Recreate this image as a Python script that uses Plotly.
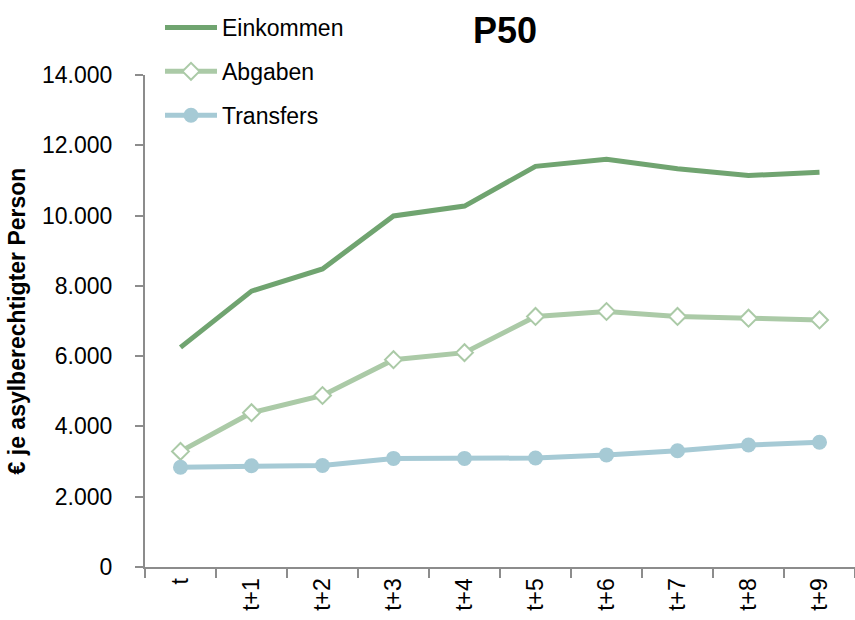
import plotly.graph_objects as go

# Zeitpunkte relativ zum Jahr der Anerkennung
perioden = ["t", "t+1", "t+2", "t+3", "t+4", "t+5", "t+6", "t+7", "t+8", "t+9"]

# Median (P50) in Euro je asylberechtigter Person
einkommen = [6250, 7850, 8480, 9990, 10270, 11400, 11600, 11330, 11140, 11230]
abgaben = [3290, 4390, 4880, 5900, 6100, 7130, 7270, 7130, 7080, 7030]
transfers = [2840, 2880, 2890, 3090, 3090, 3100, 3190, 3310, 3470, 3550]

farbe_einkommen = "#70a470"
farbe_abgaben = "#abcaa7"
farbe_transfers = "#a6cad5"
achsenfarbe = "#8c8c8c"
schrift = "Liberation Sans"

fig = go.Figure()

fig.add_trace(go.Scatter(
    x=perioden, y=einkommen, name="Einkommen", mode="lines",
    line=dict(color=farbe_einkommen, width=5),
    legendgroup="a", cliponaxis=False,
))
fig.add_trace(go.Scatter(
    x=perioden, y=abgaben, name="Abgaben", mode="lines+markers",
    line=dict(color=farbe_abgaben, width=5),
    marker=dict(symbol="diamond", size=13, color="white",
                line=dict(color=farbe_abgaben, width=2)),
    legendgroup="b", cliponaxis=False,
))
fig.add_trace(go.Scatter(
    x=perioden, y=transfers, name="Transfers", mode="lines+markers",
    line=dict(color=farbe_transfers, width=5),
    marker=dict(symbol="circle", size=15, color=farbe_transfers),
    legendgroup="c", cliponaxis=False,
))

fig.update_layout(
    width=855, height=620,
    margin=dict(l=145, r=0, t=75, b=53, pad=0),
    paper_bgcolor="white", plot_bgcolor="white",
    font=dict(family=schrift, size=23, color="black"),
    separators=",.",
    title=dict(text="<b>P50</b>", x=505 / 855, xanchor="center",
               y=1 - 30 / 620, yanchor="middle",
               font=dict(family=schrift, size=36, color="black")),
    legend=dict(
        x=(160 - 145) / 710, y=1 + (75 - 6) / 492, xanchor="left", yanchor="top",
        orientation="v", itemwidth=52, tracegroupgap=11,
        font=dict(family=schrift, size=23, color="black"),
        bgcolor="rgba(0,0,0,0)",
    ),
    showlegend=True,
)

fig.update_xaxes(
    type="category", range=[-0.5, len(perioden) - 0.5],
    showgrid=False, zeroline=False,
    showline=True, linecolor=achsenfarbe, linewidth=2,
    ticks="outside", tickson="boundaries", ticklen=9,
    tickcolor=achsenfarbe, tickwidth=1.5,
    tickangle=-90, ticklabelstandoff=0,
    tickfont=dict(family=schrift, size=23, color="black"),
    automargin=False,
)

fig.update_yaxes(
    range=[0, 14000], dtick=2000, tickformat=",d",
    showgrid=False, zeroline=False,
    showline=True, linecolor=achsenfarbe, linewidth=2,
    ticks="outside", ticklen=8, tickcolor=achsenfarbe, tickwidth=1.5,
    ticklabelstandoff=18,
    tickfont=dict(family=schrift, size=23, color="black"),
    title=dict(text="<b>€ je asylberechtigter Person</b>", standoff=10,
               font=dict(family=schrift, size=23, color="black")),
    automargin=False,
)

fig.write_html("out.html")
